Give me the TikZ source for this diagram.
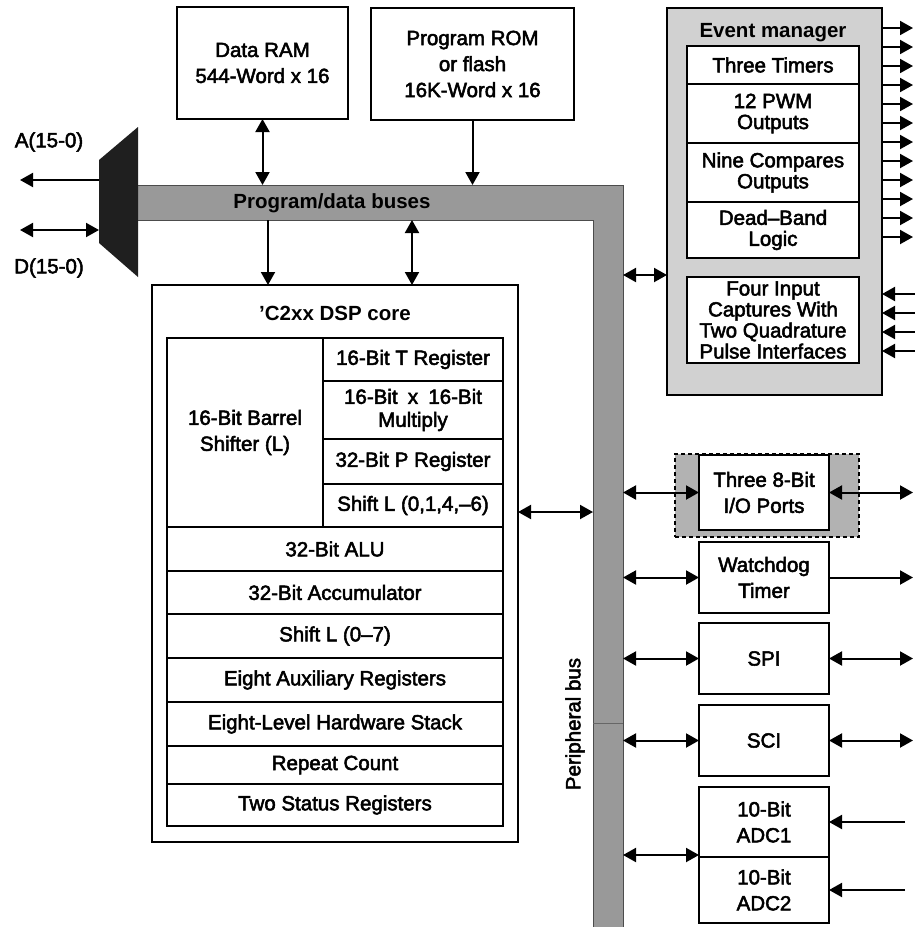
\documentclass[tikz,border=0pt]{standalone}
\usepackage{fontspec}
\setmainfont{Liberation Sans}[UprightFeatures={FakeBold=2.5}]
\usetikzlibrary{arrows.meta}
\definecolor{busgray}{gray}{0.60}
\definecolor{emgray}{gray}{0.82}
\definecolor{iogray}{gray}{0.70}
\definecolor{muxgray}{gray}{0.12}
\newcommand\BX[7]{\node[#6, anchor=north west, minimum width={#4-#2}, minimum height={#5-#3}] (#1) at (#2,#3) {#7};}
\begin{document}
\begin{tikzpicture}[x=1pt,y=-1pt,
  every node/.style={inner sep=0pt, outer sep=0pt},
  txt/.style={font=\fontsize{20.5}{26}\selectfont, align=center},
  tighttxt/.style={font=\fontsize{20.5}{21}\selectfont, align=center},
  boldtxt/.style={font=\fontsize{20.5}{26}\selectfont\bfseries},
  blk/.style={txt, draw, line width=2.8pt, fill=white},
  cell/.style={txt, draw, line width=1.3pt},
  conn/.style={line width=2pt},
  >={Triangle[length=13pt,width=14pt]},
]
\useasboundingbox[fill=white] (0,0) rectangle (915,927);

% buses
\node[anchor=north west, minimum width=485, minimum height=35] (hbus) at (138,185) {};
\node[anchor=north west, minimum width=30, minimum height=742] (vbus) at (593,185) {};
\fill[busgray] (hbus.north west) -- (vbus.north east) -- (vbus.south east) -- (vbus.south west) -- (vbus.west |- hbus.south) -- (hbus.south west) -- cycle;
\draw[line width=0.8pt, black!70] (hbus.north west) -- (vbus.north east) -- (vbus.south east);
\draw[line width=0.8pt, black!70] (vbus.south west) -- (vbus.west |- hbus.south) -- (hbus.south west);
\draw[line width=0.6pt, black!60] (vbus.west |- 0,723) -- (vbus.east |- 0,723);
\node[boldtxt] (pdb) at (332,203) {Program/data buses};
\node[txt, rotate=90] (pb) at (575,724) {Peripheral bus};

% mux
\coordinate (m1) at (99,160);
\coordinate (m2) at (138,127);
\coordinate (m3) at (138,277);
\coordinate (m4) at (99,243);
\fill[muxgray] (m1) -- (m2) -- (m3) -- (m4) -- cycle;
\coordinate (aOut) at (20,180);
\coordinate (dOut) at (20,230);
\draw[conn,->] (m1 |- aOut) -- (aOut);
\draw[conn,<->] (dOut) -- (m1 |- dOut);
\node[txt] (alab) at (49,142) {A(15-0)};
\node[txt] (dlab) at (49,268) {D(15-0)};

% memories
\BX{ram}{177}{7}{348}{119}{blk}{Data RAM\\544-Word x 16}
\BX{rom}{371}{8}{574}{120}{blk}{Program ROM\\or flash\\16K-Word x 16}
\draw[conn,<->] (ram.south) -- (ram.south |- hbus.north);
\draw[conn,->] (rom.south) -- (rom.south |- hbus.north);

% core
\BX{core}{152}{285}{518}{842}{blk}{}
\coordinate (c1) at (268,0);
\coordinate (c2) at (412,0);
\draw[conn,->] (hbus.south -| c1) -- (core.north -| c1);
\draw[conn,<->] (hbus.south -| c2) -- (core.north -| c2);
\node[boldtxt] (coretitle) at (335,313) {'C2xx DSP core};
\BX{barrel}{167}{338}{323}{527}{cell}{16-Bit Barrel\\Shifter (L)}
\BX{treg}{323}{338}{503}{381}{cell}{16-Bit T Register}
\BX{mult}{323}{381}{503}{439}{cell,font=\fontsize{20.5}{23}\selectfont}{16-Bit\enspace x\enspace 16-Bit\\Multiply}
\BX{preg}{323}{439}{503}{484}{cell}{32-Bit P Register}
\BX{shl}{323}{484}{503}{527}{cell}{Shift L (0,1,4,--6)}
\BX{alu}{167}{527}{503}{571}{cell}{32-Bit ALU}
\BX{acc}{167}{571}{503}{614}{cell}{32-Bit Accumulator}
\BX{shltwo}{167}{614}{503}{658}{cell}{Shift L (0--7)}
\BX{aux}{167}{658}{503}{702}{cell}{Eight Auxiliary Registers}
\BX{stack}{167}{702}{503}{746}{cell}{Eight-Level Hardware Stack}
\BX{rpt}{167}{746}{503}{784}{cell}{Repeat Count}
\BX{status}{167}{784}{503}{826}{cell}{Two Status Registers}
\coordinate (ly) at (0,512);
\draw[conn,<->] (core.east |- ly) -- (vbus.west |- ly);

% event manager
\BX{em}{667}{8}{882}{395}{blk,fill=emgray}{}
\node[boldtxt] (emtitle) at (773,33) {Event manager};
\BX{timers}{687}{46}{859}{84}{cell,fill=white}{Three Timers}
\BX{pwm}{687}{84}{859}{143}{cell,fill=white,tighttxt}{12 PWM\\Outputs}
\BX{cmp}{687}{143}{859}{202}{cell,fill=white,tighttxt}{Nine Compares\\Outputs}
\BX{dead}{687}{202}{859}{258}{cell,fill=white,tighttxt}{Dead--Band\\Logic}
\BX{cap}{687}{277}{859}{363}{cell,fill=white,tighttxt,line width=1.8pt}{Four Input\\Captures With\\Two Quadrature\\Pulse Interfaces}
\coordinate (ey) at (0,275);
\draw[conn,<->] (vbus.east |- ey) -- (em.west |- ey);
\coordinate (R) at (913,0);
\coordinate (RR) at (915,0);
\coordinate (RA) at (905,0);
\foreach \y in {28,47,66,85,104,123,142,161,180,199,218,237} {
  \draw[conn,->] (em.east |- 0,\y) -- (R |- 0,\y);
}
\foreach \y in {294,313,332,351} {
  \draw[conn,->] (RR |- 0,\y) -- (em.east |- 0,\y);
}

% peripherals
\BX{ioreg}{675}{454}{859}{537}{draw=black, line width=2.8pt, dash pattern=on 4pt off 3pt, fill=iogray}{}
\BX{io}{699}{455}{829}{530}{blk}{Three 8-Bit\\I/O Ports}
\draw[conn,<->] (vbus.east |- io.west) -- (io.west);
\draw[conn,<->] (io.east) -- (R |- io.east);

\BX{wd}{699}{542}{829}{613}{blk}{Watchdog\\Timer}
\draw[conn,<->] (vbus.east |- wd.west) -- (wd.west);
\draw[conn,->] (wd.east) -- (R |- wd.east);

\BX{spi}{699}{623}{829}{694}{blk}{SPI}
\draw[conn,<->] (vbus.east |- spi.west) -- (spi.west);
\draw[conn,<->] (spi.east) -- (R |- spi.east);

\BX{sci}{699}{705}{829}{776}{blk}{SCI}
\draw[conn,<->] (vbus.east |- sci.west) -- (sci.west);
\draw[conn,<->] (sci.east) -- (R |- sci.east);

\BX{adcone}{699}{787}{829}{857}{cell}{10-Bit\\ADC1}
\BX{adctwo}{699}{857}{829}{923}{cell}{10-Bit\\ADC2}
\BX{adc}{699}{787}{829}{923}{draw,line width=2.8pt}{}
\draw[conn,<->] (vbus.east |- adc.west) -- (adc.west);
\draw[conn,->] (RA |- adcone.east) -- (adcone.east);
\draw[conn,->] (RA |- adctwo.east) -- (adctwo.east);
\end{tikzpicture}
\end{document}
